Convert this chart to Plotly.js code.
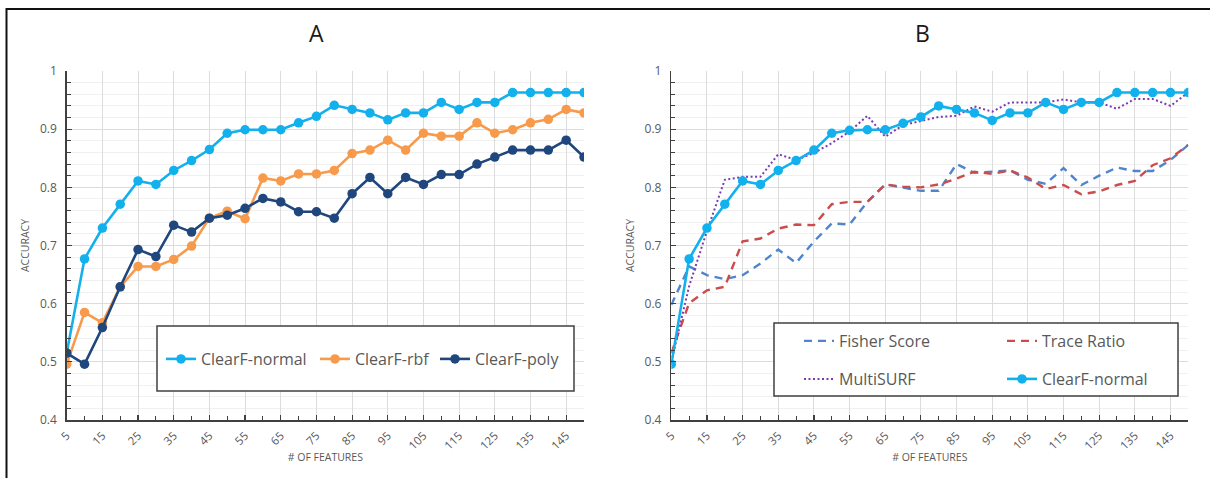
<!DOCTYPE html>
<html>
<head>
<meta charset="utf-8">
<script src="https://cdn.plot.ly/plotly-3.0.1.min.js"></script>
<style>html,body{margin:0;padding:0;background:#fff;}#chart{width:1210px;height:478px;}</style>
</head>
<body>
<div id="chart"></div>
<script>
// ---- data ----
const features = [5,10,15,20,25,30,35,40,45,50,55,60,65,70,75,80,85,90,95,100,105,110,115,120,125,130,135,140,145,150];
const xTickVals = [5,15,25,35,45,55,65,75,85,95,105,115,125,135,145];

const aNormal = [0.515,0.677,0.730,0.771,0.811,0.805,0.829,0.846,0.865,0.893,0.899,0.899,0.899,0.911,0.922,0.941,0.934,0.928,0.916,0.928,0.928,0.946,0.934,0.946,0.946,0.963,0.963,0.963,0.963,0.963];
const aRbf    = [0.496,0.585,0.567,0.629,0.664,0.664,0.676,0.699,0.747,0.759,0.746,0.816,0.811,0.823,0.823,0.829,0.858,0.864,0.881,0.864,0.893,0.888,0.888,0.911,0.893,0.899,0.911,0.917,0.934,0.928];
const aPoly   = [0.515,0.496,0.559,0.629,0.693,0.681,0.735,0.723,0.747,0.752,0.764,0.781,0.775,0.758,0.758,0.747,0.789,0.817,0.789,0.817,0.805,0.822,0.822,0.840,0.852,0.864,0.864,0.864,0.881,0.852];

const bFisher = [0.598,0.664,0.649,0.642,0.649,0.669,0.693,0.670,0.707,0.738,0.736,0.775,0.805,0.800,0.794,0.794,0.840,0.825,0.827,0.829,0.813,0.806,0.833,0.804,0.820,0.834,0.828,0.828,0.847,0.873];
const bTrace  = [0.515,0.601,0.623,0.629,0.707,0.712,0.729,0.736,0.735,0.771,0.775,0.775,0.805,0.801,0.800,0.805,0.815,0.827,0.823,0.829,0.817,0.797,0.804,0.788,0.793,0.804,0.811,0.838,0.850,0.873];
const bMulti  = [0.500,0.630,0.725,0.813,0.818,0.818,0.857,0.847,0.859,0.876,0.896,0.923,0.887,0.907,0.914,0.921,0.923,0.939,0.930,0.946,0.946,0.946,0.951,0.946,0.946,0.935,0.952,0.952,0.940,0.963];
const bNormal = [0.496,0.677,0.730,0.771,0.811,0.805,0.829,0.846,0.864,0.893,0.898,0.899,0.899,0.910,0.921,0.940,0.934,0.928,0.915,0.928,0.928,0.946,0.934,0.946,0.946,0.963,0.963,0.963,0.963,0.963];

// ---- layout helpers ----
const W = 1210, H = 478;
const px = v => v / W;
const py = v => (H - v) / H;

const cNormal = '#12B0EC', cRbf = '#F79A4B', cPoly = '#1F477D';
const cFisher = '#4F85CC', cTrace = '#CC4B4B', cMulti = '#7B3BB0';
const FONT = 'Open Sans, Noto Sans, sans-serif';
const gray = '#595959';

function lineMarker(x, y, color, name, xa, ya, legend) {
  return {x, y, name, type:'scatter', mode:'lines+markers', xaxis:xa, yaxis:ya, legend,
    line:{color, width:2.6}, marker:{color, size:9.5}};
}
function dashed(x, y, color, name, dash, width, legend) {
  return {x, y, name, type:'scatter', mode:'lines', xaxis:'x2', yaxis:'y2', legend,
    line:{color, width, dash}};
}

const traces = [
  lineMarker(features, aNormal, cNormal, 'ClearF-normal', 'x', 'y', 'legend'),
  lineMarker(features, aRbf, cRbf, 'ClearF-rbf', 'x', 'y', 'legend2'),
  lineMarker(features, aPoly, cPoly, 'ClearF-poly', 'x', 'y', 'legend3'),
  dashed(features, bFisher, cFisher, 'Fisher Score', '8px,6px', 2.4, 'legend4'),
  dashed(features, bTrace, cTrace, 'Trace Ratio', '8px,6px', 2.4, 'legend5'),
  dashed(features, bMulti, cMulti, 'MultiSURF', '2px,2.5px', 2, 'legend6'),
  lineMarker(features, bNormal, cNormal, 'ClearF-normal', 'x2', 'y2', 'legend7')
];

function xaxisDef(domain, anchor) {
  return {domain, anchor, range:[5,150], tickvals:xTickVals, ticktext:xTickVals.map(String),
    tickangle:-45, tickfont:{family:FONT, size:11.5, color:gray}, ticklabelstandoff:3,
    showgrid:true, gridcolor:'#DCDCDC', gridwidth:1, zeroline:false,
    showline:true, linecolor:'#404040', linewidth:1.5,
    ticks:'inside', ticklen:5, tickcolor:'#404040', tickwidth:1.2,
    minor:{tickvals:features, ticks:'inside', ticklen:4, tickcolor:'#404040', tickwidth:1, showgrid:false},
    title:{text:'# OF FEATURES', font:{family:FONT, size:10.5, color:gray}, standoff:2},
    fixedrange:true};
}
function yaxisDef(anchor) {
  return {domain:[py(420), py(71)], anchor, range:[0.4,1], dtick:0.1, tick0:0.4,
    tickfont:{family:FONT, size:12, color:gray}, ticklabelstandoff:6,
    showgrid:true, gridcolor:'#DCDCDC', gridwidth:1, zeroline:false,
    showline:true, linecolor:'#404040', linewidth:1.5,
    ticks:'inside', ticklen:5, tickcolor:'#404040', tickwidth:1.2,
    minor:{dtick:0.02, tick0:0.4, ticks:'inside', ticklen:4, tickcolor:'#404040', tickwidth:1, showgrid:true, gridcolor:'#F0F0F0', gridwidth:1},
    title:{text:'ACCURACY', font:{family:FONT, size:10.5, color:gray}, standoff:8},
    fixedrange:true};
}

function legendAt(xpx, ypx) {
  return {x:px(xpx), y:py(ypx), xanchor:'left', yanchor:'middle', orientation:'h',
    bgcolor:'rgba(0,0,0,0)', borderwidth:0, font:{family:FONT, size:16, color:gray},
    itemclick:false, itemdoubleclick:false};
}

const layout = {
  width:W, height:H, margin:{l:0, r:0, t:0, b:0},
  paper_bgcolor:'#fff', plot_bgcolor:'#fff', showlegend:true,
  font:{family:FONT, color:gray},
  xaxis: xaxisDef([px(66.7), px(584)], 'y'),
  yaxis: yaxisDef('x'),
  xaxis2: xaxisDef([px(671.3), px(1188.3)], 'y2'),
  yaxis2: yaxisDef('x2'),
  legend: legendAt(161, 359),
  legend2: legendAt(315, 359),
  legend3: legendAt(435, 359),
  legend4: legendAt(799, 341),
  legend5: legendAt(1002, 341),
  legend6: legendAt(799, 379),
  legend7: legendAt(1002, 379),
  shapes: [
    {type:'rect', xref:'paper', yref:'paper', x0:px(6.5), x1:1.02, y0:-0.02, y1:py(9), line:{color:'#111', width:2}, fillcolor:'rgba(0,0,0,0)', layer:'above'},
    {type:'rect', xref:'paper', yref:'paper', x0:px(157), x1:px(574), y0:py(391), y1:py(326), line:{color:'#404040', width:1.5}, fillcolor:'#fff', layer:'above'},
    {type:'rect', xref:'paper', yref:'paper', x0:px(774), x1:px(1178), y0:py(396), y1:py(323), line:{color:'#404040', width:1.5}, fillcolor:'#fff', layer:'above'}
  ],
  annotations: [
    {text:'A', xref:'paper', yref:'paper', x:px(316), y:py(33), xanchor:'center', yanchor:'middle', showarrow:false, font:{family:FONT, size:23, color:'#1a1a1a'}},
    {text:'B', xref:'paper', yref:'paper', x:px(922), y:py(33), xanchor:'center', yanchor:'middle', showarrow:false, font:{family:FONT, size:23, color:'#1a1a1a'}}
  ]
};

Plotly.newPlot('chart', traces, layout, {displayModeBar:false, staticPlot:true});
</script>
</body>
</html>
